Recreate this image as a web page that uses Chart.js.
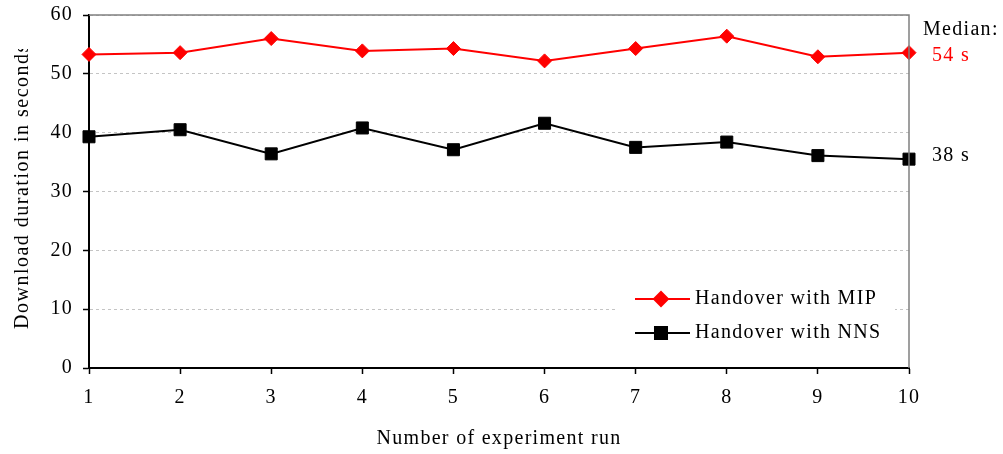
<!DOCTYPE html>
<html>
<head>
<meta charset="utf-8">
<script src="https://cdn.jsdelivr.net/npm/chart.js@4/dist/chart.umd.min.js"></script>
<style>
  html, body { margin: 0; padding: 0; background: #fff; }
  #wrap { width: 1003px; height: 454px; }
</style>
</head>
<body>
<div id="wrap"><canvas id="grafico" width="1003" height="454"></canvas></div>
<script>
const runs = [1, 2, 3, 4, 5, 6, 7, 8, 9, 10];
const mip = [53.3, 53.6, 56.0, 53.9, 54.3, 52.2, 54.3, 56.4, 52.9, 53.6];
const nns = [39.3, 40.5, 36.4, 40.8, 37.1, 41.6, 37.5, 38.4, 36.1, 35.5];
const yTicks = [0, 10, 20, 30, 40, 50, 60];
const medianLabel = "Median:";
const medianMip = "54 s";
const medianNns = "38 s";
const yTitle = "Download duration in seconds";

const serif = "'Liberation Serif', 'DejaVu Serif', serif";
const fs = 20;
Chart.defaults.font.family = serif;
Chart.defaults.color = "#000";

const espaciado = {
  id: "espaciado",
  beforeDraw(chart) {
    chart.ctx.letterSpacing = "1.3px";
  }
};

const marco = {
  id: "marco",
  afterDraw(chart) {
    const { ctx, chartArea: a, scales } = chart;
    ctx.save();
    ctx.letterSpacing = "1.3px";
    // top / right frame
    ctx.strokeStyle = "#808080";
    ctx.lineWidth = 1.5;
    ctx.beginPath();
    ctx.moveTo(a.left, a.top);
    ctx.lineTo(a.right, a.top);
    ctx.lineTo(a.right, a.bottom);
    ctx.stroke();

    // y title, last letter cut like the original
    ctx.save();
    ctx.beginPath();
    ctx.rect(0, 49, 45, 320);
    ctx.clip();
    ctx.translate(23, 329);
    ctx.rotate(-Math.PI / 2);
    ctx.font = fs + "px " + serif;
    ctx.letterSpacing = "1.5px";
    ctx.fillStyle = "#000";
    ctx.textAlign = "left";
    ctx.textBaseline = "middle";
    ctx.fillText(yTitle, 0, 0);
    ctx.restore();

    // legend
    const lx = 615, ly = 284;
    ctx.fillStyle = "#fff";
    ctx.fillRect(lx, ly, 280, 62);
    const items = [
      { label: "Handover with MIP", ds: chart.data.datasets[0], y: ly + 15 },
      { label: "Handover with NNS", ds: chart.data.datasets[1], y: ly + 49 }
    ];
    items.forEach(it => {
      ctx.strokeStyle = it.ds.borderColor;
      ctx.fillStyle = it.ds.backgroundColor;
      ctx.lineWidth = 2;
      ctx.beginPath();
      ctx.moveTo(635, it.y);
      ctx.lineTo(690, it.y);
      ctx.stroke();
      Chart.helpers.drawPoint(ctx, {
        pointStyle: it.ds.pointStyle,
        radius: it.ds.pointRadius,
        borderWidth: 1
      }, 661, it.y);
      ctx.fillStyle = "#000";
      ctx.font = fs + "px " + serif;
      ctx.textAlign = "left";
      ctx.textBaseline = "middle";
      ctx.fillText(it.label, 695, it.y);
    });

    // median labels
    const y = scales.y;
    ctx.font = fs + "px " + serif;
    ctx.textAlign = "left";
    ctx.textBaseline = "middle";
    ctx.fillStyle = "#000";
    ctx.fillText(medianLabel, 923, 30);
    ctx.fillStyle = "#ff0000";
    ctx.fillText(medianMip, 932, y.getPixelForValue(mip[mip.length - 1]) + 3);
    ctx.fillStyle = "#000";
    ctx.fillText(medianNns, 932, y.getPixelForValue(nns[nns.length - 1]) - 3);
    ctx.restore();
  }
};

new Chart(document.getElementById("grafico"), {
  type: "line",
  data: {
    datasets: [{
      label: "Handover with MIP",
      data: runs.map((r, i) => ({ x: r, y: mip[i] })),
      borderColor: "#ff0000",
      backgroundColor: "#ff0000",
      borderWidth: 2,
      pointStyle: "rectRot",
      pointRadius: 7,
      pointBorderWidth: 1,
      tension: 0,
      clip: false
    }, {
      label: "Handover with NNS",
      data: runs.map((r, i) => ({ x: r, y: nns[i] })),
      borderColor: "#000000",
      backgroundColor: "#000000",
      borderWidth: 2,
      pointStyle: "rect",
      pointRadius: 8.5,
      pointBorderWidth: 1,
      tension: 0,
      clip: false
    }]
  },
  options: {
    responsive: false,
    animation: false,
    events: [],
    layout: { padding: { top: 15, right: 94, left: 0, bottom: 0 } },
    plugins: {
      legend: { display: false },
      tooltip: { enabled: false }
    },
    scales: {
      x: {
        type: "linear",
        min: 1,
        max: 10,
        afterFit: s => { s.height = 86; },
        ticks: {
          stepSize: 1,
          padding: 12,
          font: { size: fs },
          color: "#000"
        },
        grid: {
          drawOnChartArea: false,
          tickLength: 6,
          tickColor: "#000",
          tickWidth: 1.5
        },
        border: { color: "#000", width: 2 },
        title: {
          display: true,
          text: "Number of experiment run",
          font: { size: fs },
          color: "#000",
          padding: { top: 0, bottom: 3 }
        }
      },
      y: {
        min: 0,
        max: 60,
        afterFit: s => { s.width = 89; s.paddingTop = 0; s.paddingBottom = 0; },
        afterBuildTicks: s => { s.ticks = yTicks.map(v => ({ value: v })); },
        ticks: {
          padding: 10,
          font: { size: fs },
          color: "#000"
        },
        grid: {
          color: "#c4c4c4",
          lineWidth: 1,
          tickLength: 6,
          tickColor: "#000",
          tickWidth: 1.5,
          tickBorderDash: []
        },
        border: { color: "#000", width: 2, dash: [3, 3] }
      }
    }
  },
  plugins: [espaciado, marco]
});
</script>
</body>
</html>
